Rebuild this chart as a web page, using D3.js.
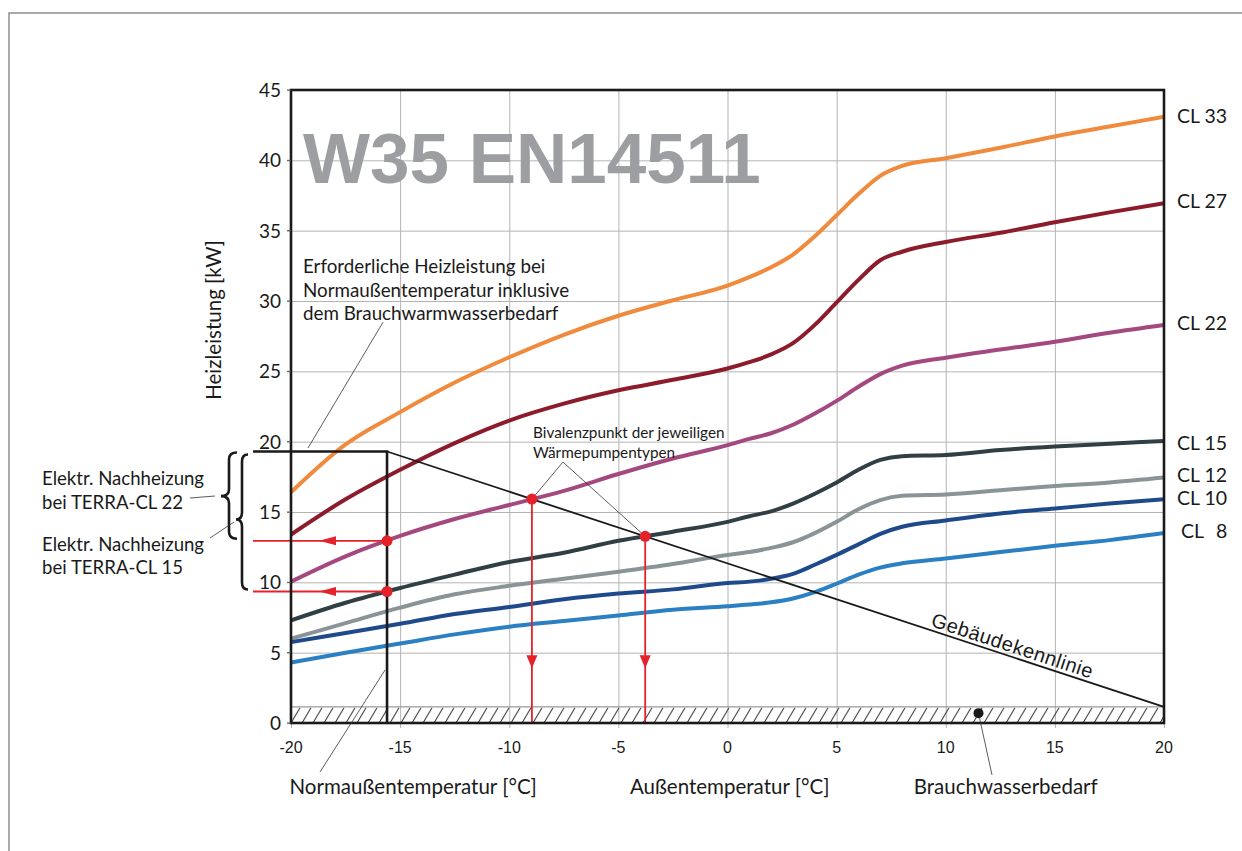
<!DOCTYPE html>
<html>
<head>
<meta charset="utf-8">
<script src="https://cdn.jsdelivr.net/npm/d3@7"></script>
<style>
  body { margin: 0; background: #fff; }
  svg { display: block; }
  text { font-family: Lato, "Open Sans", sans-serif; fill: #1a1a1a; }
</style>
</head>
<body>
<svg id="chart" width="1242" height="851"></svg>
<script>
// Outdoor temperature grid (°C) shared by all heat pump curves
const temps = [-20, -17.5, -15, -12.5, -10, -7.5, -5, -2.5, 0, 1, 2, 3, 4, 5, 6, 7, 8, 10, 12.5, 15, 17.5, 20];

// Heating output (kW) of each TERRA-CL model, W35 according to EN14511
const cl33 = [16.4, 19.8, 22.1, 24.2, 26.0, 27.6, 28.95, 30.05, 31.1, 31.7, 32.4, 33.3, 34.6, 36.1, 37.6, 38.9, 39.6, 40.15, 40.9, 41.7, 42.4, 43.1];
const cl27 = [13.4, 15.9, 18.0, 19.9, 21.5, 22.7, 23.65, 24.4, 25.2, 25.65, 26.2, 27.0, 28.3, 29.9, 31.5, 32.9, 33.5, 34.2, 34.85, 35.6, 36.3, 36.95];
const cl22 = [10.05, 11.85, 13.3, 14.5, 15.5, 16.5, 17.7, 18.8, 19.75, 20.2, 20.6, 21.2, 22.0, 22.9, 23.9, 24.8, 25.4, 25.97, 26.55, 27.1, 27.75, 28.3];
const cl15 = [7.3, 8.55, 9.6, 10.55, 11.45, 12.1, 12.95, 13.6, 14.3, 14.7, 15.05, 15.6, 16.3, 17.1, 18.0, 18.7, 18.97, 19.05, 19.4, 19.65, 19.85, 20.05];
const cl12 = [6.0, 7.1, 8.2, 9.15, 9.75, 10.25, 10.75, 11.3, 11.95, 12.15, 12.45, 12.85, 13.5, 14.3, 15.2, 15.85, 16.15, 16.25, 16.55, 16.85, 17.1, 17.45];
const cl10 = [5.75, 6.4, 7.05, 7.75, 8.25, 8.8, 9.2, 9.5, 9.95, 10.05, 10.25, 10.6, 11.25, 11.95, 12.7, 13.45, 13.95, 14.4, 14.9, 15.25, 15.6, 15.9];
const cl8  = [4.3, 5.0, 5.65, 6.3, 6.85, 7.25, 7.65, 8.05, 8.3, 8.42, 8.58, 8.85, 9.3, 9.9, 10.55, 11.05, 11.35, 11.7, 12.15, 12.6, 13.0, 13.5];

const seriesNames  = ["CL 33", "CL 27", "CL 22", "CL 15", "CL 12", "CL 10", "CL 8"];
const seriesColors = ["#f08a3c", "#8c1c2c", "#a3497f", "#2f3f44", "#8a9497", "#1e4a8c", "#2b80c3"];
const seriesData   = [cl33, cl27, cl22, cl15, cl12, cl10, cl8];

const xTicks = [-20, -15, -10, -5, 0, 5, 10, 15, 20];
const yTicks = [0, 5, 10, 15, 20, 25, 30, 35, 40, 45];

// Building: design outdoor temperature, design load incl. domestic hot water, hot water share
const normTemp = -15.6;
const normLoad = 19.3;
const dhwLoad = 1.15;
const dhwMarker = [11.5, 0.7];

const svg = d3.select("#chart");
const x = d3.scaleLinear().domain([-20, 20]).range([291, 1164]);
const y = d3.scaleLinear().domain([0, 45]).range([723, 90]);
const red = "#e52229";

// Linear interpolation of a series at temperature t
function at(series, t) {
  let i = Math.min(d3.bisectRight(temps, t) - 1, temps.length - 2);
  i = Math.max(i, 0);
  const t0 = temps[i], t1 = temps[i + 1];
  return series[i] + (series[i + 1] - series[i]) * (t - t0) / (t1 - t0);
}
// Building characteristic line
function building(t) {
  return normLoad + (dhwLoad - normLoad) * (t - normTemp) / (20 - normTemp);
}
// Balance point: where the heat pump output meets the building demand
function bivalence(series) {
  let lo = normTemp, hi = 20;
  for (let k = 0; k < 60; k++) {
    const mid = (lo + hi) / 2;
    if (at(series, mid) - building(mid) < 0) lo = mid; else hi = mid;
  }
  return (lo + hi) / 2;
}

// Page border
svg.append("path").attr("d", "M9,851 V13 H1242")
  .attr("fill", "none").attr("stroke", "#8f8f8f").attr("stroke-width", 1.5);

// Grid
const gx = svg.append("g").attr("transform", `translate(0,${y(0) + 5})`)
  .call(d3.axisBottom(x).tickValues(xTicks).tickSize(-(y(0) - y(45) + 5)).tickFormat(""));
gx.select(".domain").remove();
gx.selectAll("line").attr("stroke", "#b3b3b3").attr("stroke-width", 1);

const gy = svg.append("g").attr("transform", `translate(${x(-20) - 4},0)`)
  .call(d3.axisLeft(y).tickValues(yTicks).tickSize(-(x(20) - x(-20) + 4)).tickFormat(""));
gy.select(".domain").remove();
gy.selectAll("line").attr("stroke", "#b3b3b3").attr("stroke-width", 1);

// Hatched band for the domestic hot water demand
const defs = svg.append("defs");
const hatchH = y(0) - y(dhwLoad);
defs.append("pattern").attr("id", "hatch").attr("patternUnits", "userSpaceOnUse")
  .attr("x", x(-20)).attr("y", y(dhwLoad)).attr("width", 11).attr("height", hatchH)
  .append("path").attr("d", `M0,${hatchH} L9,1`).attr("stroke", "#2a2a2a").attr("stroke-width", 1);
svg.append("rect").attr("x", x(-20)).attr("y", y(dhwLoad))
  .attr("width", x(20) - x(-20)).attr("height", hatchH).attr("fill", "url(#hatch)");
svg.append("line").attr("x1", x(-20)).attr("x2", x(20)).attr("y1", y(dhwLoad)).attr("y2", y(dhwLoad))
  .attr("stroke", "#9a9a9a").attr("stroke-width", 1.2);

// Title watermark
svg.append("text").attr("x", 303).attr("y", 183)
  .style("font-family", "'Liberation Sans', Arial, sans-serif").style("font-weight", "bold")
  .style("font-size", "71px").style("fill", "#9c9ea1").text("W35 EN14511");

// Heat pump curves
const line = d3.line().x((d, i) => x(temps[i])).y(d => y(d)).curve(d3.curveMonotoneX);
svg.append("g").selectAll("path").data(seriesData).join("path")
  .attr("d", line).attr("fill", "none")
  .attr("stroke", (d, i) => seriesColors[i]).attr("stroke-width", 4);

// Series labels at the right edge
const labelY = [123, 208, 330, 450, 482, 505, 538];
seriesNames.forEach((n, i) => {
  const parts = n.split(" ");
  const t = svg.append("text").attr("y", labelY[i]).style("font-size", "19.5px");
  if (parts[1].length === 1) {
    t.append("tspan").attr("x", 1181).text(parts[0]);
    t.append("tspan").attr("x", 1216).text(parts[1]);
  } else {
    t.attr("x", 1177).text(n);
  }
});

// Design point box and building characteristic
svg.append("path")
  .attr("d", `M253,${y(normLoad)} H${x(normTemp)} V${y(0)}`)
  .attr("fill", "none").attr("stroke", "#1a1a1a").attr("stroke-width", 2.6);
svg.append("line")
  .attr("x1", x(normTemp)).attr("y1", y(normLoad)).attr("x2", x(20)).attr("y2", y(dhwLoad))
  .attr("stroke", "#1a1a1a").attr("stroke-width", 1.8);

const ang = Math.atan2(y(dhwLoad) - y(normLoad), x(20) - x(normTemp)) * 180 / Math.PI;
const lblT = 12.9;
svg.append("text")
  .attr("transform", `translate(${x(lblT)},${y(building(lblT))}) rotate(${ang})`)
  .attr("dy", -4).attr("text-anchor", "middle")
  .style("font-family", "'Liberation Sans', Arial, sans-serif").style("font-size", "20px")
  .style("letter-spacing", "0.5px").text("Gebäudekennlinie");

// Electric supplement at the design temperature (CL 22 and CL 15)
const supp = [at(cl22, normTemp), at(cl15, normTemp)];
supp.forEach(v => {
  svg.append("line").attr("x1", x(normTemp)).attr("x2", 253).attr("y1", y(v)).attr("y2", y(v))
    .attr("stroke", red).attr("stroke-width", 1.8);
  svg.append("path")
    .attr("d", `M319,${y(v)} L336,${y(v) - 4.5} L336,${y(v) + 4.5} Z`).attr("fill", red);
});

// Balance points of CL 22 and CL 15
const biv = [cl22, cl15].map(s => { const t = bivalence(s); return [t, at(s, t)]; });
biv.forEach(([t, v]) => {
  svg.append("line").attr("x1", x(t)).attr("x2", x(t)).attr("y1", y(v)).attr("y2", y(0))
    .attr("stroke", red).attr("stroke-width", 1.8);
  const tip = y(3.9);
  svg.append("path")
    .attr("d", `M${x(t)},${tip} L${x(t) - 5.5},${tip - 13} L${x(t) + 5.5},${tip - 13} Z`).attr("fill", red);
});

// Leader lines for the balance point note
const apex = [-7.54, 18.55];
biv.forEach(([t, v]) => {
  svg.append("line").attr("x1", x(apex[0])).attr("y1", y(apex[1])).attr("x2", x(t)).attr("y2", y(v))
    .attr("stroke", "#333").attr("stroke-width", 0.8);
});

// Red dots
const dots = supp.map(v => [normTemp, v]).concat(biv);
svg.append("g").selectAll("circle").data(dots).join("circle")
  .attr("cx", d => x(d[0])).attr("cy", d => y(d[1])).attr("r", 5.5).attr("fill", red);

// Outer frame of the plot
svg.append("rect").attr("x", x(-20)).attr("y", y(45))
  .attr("width", x(20) - x(-20)).attr("height", y(0) - y(45))
  .attr("fill", "none").attr("stroke", "#1a1a1a").attr("stroke-width", 2.6);

// Domestic hot water marker and leader
svg.append("line").attr("x1", x(dhwMarker[0])).attr("y1", y(dhwMarker[1]))
  .attr("x2", x(12.12)).attr("y2", y(-3.7)).attr("stroke", "#333").attr("stroke-width", 0.8);
svg.append("circle").attr("cx", x(dhwMarker[0])).attr("cy", y(dhwMarker[1])).attr("r", 5).attr("fill", "#1a1a1a");

// Leader for the design outdoor temperature label
svg.append("line").attr("x1", x(-18.67)).attr("y1", y(-3.48)).attr("x2", x(-15.69)).attr("y2", y(3.77))
  .attr("stroke", "#333").attr("stroke-width", 0.8);
// Leader for the required heating output note
svg.append("line").attr("x1", x(-19.22)).attr("y1", y(19.55)).attr("x2", x(-15.78)).attr("y2", y(28.5))
  .attr("stroke", "#333").attr("stroke-width", 0.8);

// Axis tick labels
svg.append("g").selectAll("text").data(yTicks).join("text")
  .attr("x", 281).attr("y", d => y(d) + 7).attr("text-anchor", "end")
  .style("font-size", "19px").text(d => d);
svg.append("g").selectAll("line").data(yTicks).join("line")
  .attr("x1", x(-20) - 4).attr("x2", x(-20)).attr("y1", d => y(d)).attr("y2", d => y(d))
  .attr("stroke", "#555").attr("stroke-width", 1);
svg.append("g").selectAll("text").data(xTicks).join("text")
  .attr("x", d => x(d)).attr("y", 753).attr("text-anchor", "middle")
  .style("font-family", "'Liberation Sans', Arial, sans-serif").style("font-size", "16px")
  .text(d => d);

// Axis titles
svg.append("text").attr("transform", "translate(221,320) rotate(-90)").attr("text-anchor", "middle")
  .style("font-size", "20.5px").text("Heizleistung [kW]");
svg.append("text").attr("x", x(-14.4)).attr("y", 794).attr("text-anchor", "middle")
  .style("font-size", "20.5px").text("Normaußentemperatur [°C]");
svg.append("text").attr("x", x(0.1)).attr("y", 794).attr("text-anchor", "middle")
  .style("font-size", "20.5px").text("Außentemperatur [°C]");
svg.append("text").attr("x", x(12.75)).attr("y", 794).attr("text-anchor", "middle")
  .style("font-size", "20.5px").text("Brauchwasserbedarf");

// Notes
const note1 = ["Erforderliche Heizleistung bei", "Normaußentemperatur inklusive", "dem Brauchwarmwasserbedarf"];
svg.append("g").selectAll("text").data(note1).join("text")
  .attr("x", 303).attr("y", (d, i) => 273 + i * 23.5).style("font-size", "18.8px").text(d => d);

const note2 = ["Bivalenzpunkt der jeweiligen", "Wärmepumpentypen"];
svg.append("g").selectAll("text").data(note2).join("text")
  .attr("x", 533).attr("y", (d, i) => 438 + i * 20).style("font-size", "15.3px").text(d => d);

const note3 = ["Elektr. Nachheizung", "bei TERRA-CL 22", "Elektr. Nachheizung", "bei TERRA-CL 15"];
const note3Y = [485, 509, 551, 574];
svg.append("g").selectAll("text").data(note3).join("text")
  .attr("x", 42).attr("y", (d, i) => note3Y[i]).style("font-size", "18.6px").text(d => d);

// Curly braces marking the electric supplement ranges
function brace(xe, xs, xt, y1, y2, ym) {
  const r = 7;
  return `M${xe},${y1} Q${xs},${y1} ${xs},${y1 + r} L${xs},${ym - r} Q${xs},${ym} ${xt},${ym}` +
         ` Q${xs},${ym} ${xs},${ym + r} L${xs},${y2 - r} Q${xs},${y2} ${xe},${y2}`;
}
const b1 = [y(normLoad), y(supp[0])];
const b2 = [y(normLoad), y(supp[1])];
svg.append("path").attr("d", brace(237, 229, 221, b1[0] + 1, b1[1] - 2, (b1[0] + b1[1]) / 2))
  .attr("fill", "none").attr("stroke", "#1a1a1a").attr("stroke-width", 2.6);
svg.append("path").attr("d", brace(248, 242, 236, b2[0] + 3, b2[1] - 2, b2[0] + 68))
  .attr("fill", "none").attr("stroke", "#1a1a1a").attr("stroke-width", 2.6);
svg.append("line").attr("x1", 190).attr("y1", 498).attr("x2", 215).attr("y2", 496)
  .attr("stroke", "#333").attr("stroke-width", 0.8);
svg.append("line").attr("x1", 210).attr("y1", 538).attr("x2", 234).attr("y2", 522)
  .attr("stroke", "#333").attr("stroke-width", 0.8);
</script>
</body>
</html>
